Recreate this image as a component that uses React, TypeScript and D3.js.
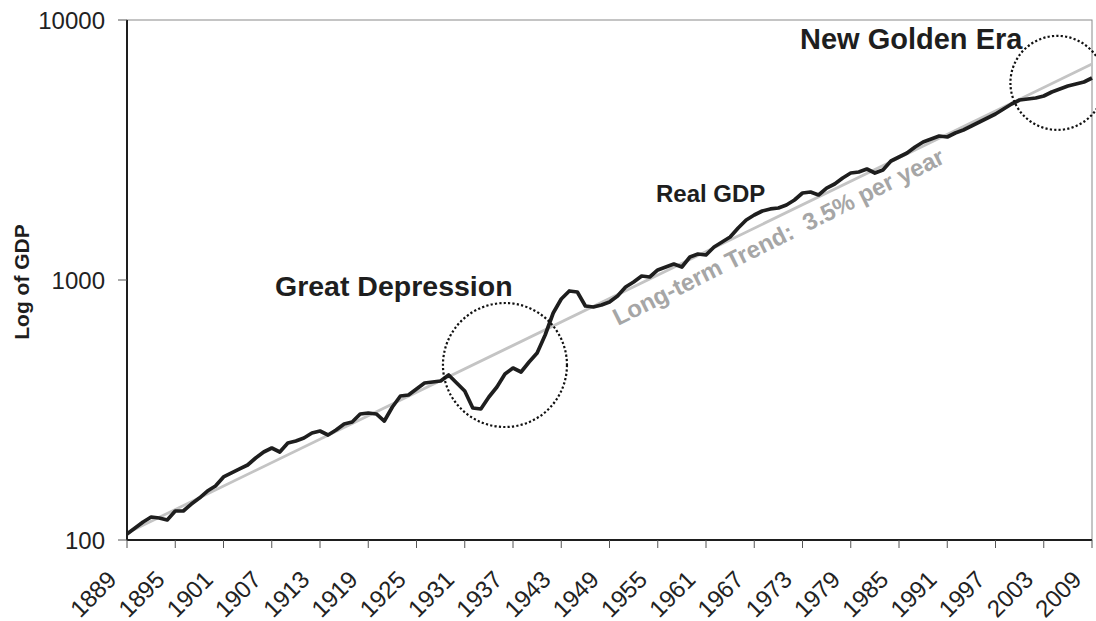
import React from "react";
import * as d3 from "d3";

const W = 1096;
const H = 621;

const firstYear = 1889;
const lastYear = 2009;

const gdpValues = [
  105.5, 111.2, 117.3, 122.6, 121.5, 119.4, 129.3, 129.3, 137.5, 145.0,
  154.3, 161.3, 174.8, 181.1, 187.6, 194.3, 206.7, 218.0, 225.8, 218.0,
  236.1, 240.3, 246.8, 257.9, 262.5, 253.4, 264.9, 279.3, 284.3, 305.3,
  308.0, 305.3, 286.8, 324.8, 358.0, 361.2, 380.9, 401.6, 405.2, 408.8,
  431.1, 401.6, 374.2, 321.9, 319.1, 354.8, 387.7, 435.0, 458.6, 442.8,
  483.6, 524.1, 614.4, 746.6, 845.3, 907.4, 899.4, 794.3, 787.3, 801.4,
  823.0, 868.1, 939.7, 982.4, 1036, 1027, 1093, 1122, 1152, 1122,
  1226, 1259, 1248, 1339, 1400, 1463, 1585, 1701, 1778, 1842,
  1876, 1892, 1943, 2031, 2161, 2180, 2123, 2258, 2340, 2468,
  2579, 2602, 2672, 2579, 2649, 2868, 2972, 3080, 3248, 3395,
  3486, 3580, 3548, 3676, 3775, 3911, 4052, 4198, 4350, 4546,
  4752, 4923, 4967, 5012, 5101, 5286, 5428, 5574, 5674, 5775,
  5984,
];

// Long-term trend (3.5% per year): endpoints
const trendYears = [1889, 2009];
const trendValues = [106.4, 6770];

const xTickYears = [
  1889, 1895, 1901, 1907, 1913, 1919, 1925, 1931, 1937, 1943, 1949,
  1955, 1961, 1967, 1973, 1979, 1985, 1991, 1997, 2003, 2009,
];
const yTickValues = [100, 1000, 10000];
const yTickLabels = ["100", "1000", "10000"];

// annotation circles: center year, center value
const circleYears = [1936, 2004.7];
const circleValues = [471, 5730];

const FONT = "'Liberation Sans', Arial, Helvetica, sans-serif";

export default function App() {
  const left = 127;
  const right = 1092;
  const top = 20;
  const bottom = 540;

  const x = d3.scaleLinear().domain([firstYear, lastYear]).range([left, right]);
  const y = d3.scaleLog().domain([100, 10000]).range([bottom, top]);

  const gdp = gdpValues.map((v, i) => ({ year: firstYear + i, v }));
  const trend = trendYears.map((yr, i) => ({ year: yr, v: trendValues[i] }));

  const line = d3
    .line<{ year: number; v: number }>()
    .x((d) => x(d.year))
    .y((d) => y(d.v))
    .curve(d3.curveLinear);

  const circleRadii = [62, 47];

  return (
    <svg
      width={W}
      height={H}
      style={{ position: "absolute", left: 0, top: 0, background: "#fff" }}
      fontFamily={FONT}
    >
      <rect x={0} y={0} width={W} height={H} fill="#fff" />
      {/* plot border */}
      <rect
        x={left}
        y={top}
        width={right - left}
        height={bottom - top}
        fill="none"
        stroke="#8a8a8a"
        strokeWidth={1}
      />
      {/* trend line */}
      <path d={line(trend) || ""} fill="none" stroke="#c4c4c4" strokeWidth={2.8} />
      {/* GDP line */}
      <path
        d={line(gdp) || ""}
        fill="none"
        stroke="#1e1e1e"
        strokeWidth={3.7}
        strokeLinejoin="round"
      />
      {/* axes */}
      <line x1={left} x2={left} y1={top} y2={bottom} stroke="#1e1e1e" strokeWidth={2} />
      <line x1={left} x2={right} y1={bottom} y2={bottom} stroke="#1e1e1e" strokeWidth={2} />
      {yTickValues.map((v, i) => (
        <g key={"yt" + v}>
          <line x1={left - 9} x2={left} y1={y(v)} y2={y(v)} stroke="#555" strokeWidth={1} />
          <text
            x={105}
            y={y(v) + 9}
            textAnchor="end"
            fontSize={24}
            fill="#222"
          >
            {yTickLabels[i]}
          </text>
        </g>
      ))}
      {xTickYears.map((yr) => (
        <g key={"xt" + yr}>
          <line x1={x(yr)} x2={x(yr)} y1={bottom} y2={bottom + 8} stroke="#555" strokeWidth={1} />
          <text
            transform={`translate(${x(yr) - 9},${581}) rotate(-45)`}
            textAnchor="end"
            fontSize={24}
            fill="#222"
          >
            {yr}
          </text>
        </g>
      ))}
      {/* y axis title */}
      <text
        transform={`translate(29,282) rotate(-90)`}
        textAnchor="middle"
        fontSize={21}
        fontWeight="bold"
        fill="#1e1e1e"
      >
        Log of GDP
      </text>
      {/* annotation circles */}
      {circleYears.map((yr, i) => (
        <circle
          key={"c" + yr}
          cx={x(yr)}
          cy={y(circleValues[i])}
          r={circleRadii[i]}
          fill="none"
          stroke="#111"
          strokeWidth={2.2}
          strokeDasharray="2.2 2.2"
        />
      ))}
      {/* annotations */}
      <text x={275} y={296} fontSize={28.5} fontWeight="bold" fill="#1e1e1e">
        Great Depression
      </text>
      <text x={800} y={49} fontSize={29} fontWeight="bold" fill="#1e1e1e">
        New Golden Era
      </text>
      <text x={656} y={202} fontSize={24} fontWeight="bold" fill="#1e1e1e">
        Real GDP
      </text>
      <text
        transform={`translate(618,326) rotate(-26.5)`}
        fontSize={24}
        fontWeight="bold"
        fill="#a6a6a6"
        style={{ whiteSpace: "pre" }}
      >
        {"Long-term Trend:  3.5% per year"}
      </text>
    </svg>
  );
}
